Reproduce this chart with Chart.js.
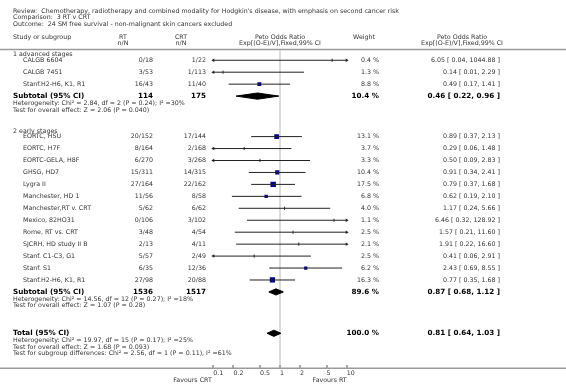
<!DOCTYPE html>
<html>
<head>
<meta charset="utf-8">
<title>24 SM free survival - RT v CRT</title>
<script src="https://cdn.jsdelivr.net/npm/chart.js@4.4.0/dist/chart.umd.min.js"></script>
<style>
  html, body { margin: 0; padding: 0; background: #fff; }
  canvas { display: block; }
</style>
</head>
<body>
<canvas id="myChart" width="566" height="392"></canvas>
<script>
// ---- data ----
const titleLines = [
  'Review:  Chemotherapy, radiotherapy and combined modality for Hodgkin\'s disease, with emphasis on second cancer risk',
  'Comparison:  3 RT v CRT',
  'Outcome:  24 SM free survival - non-malignant skin cancers excluded'
];
const groupNames = ['1 advanced stages', '2 early stages'];
const studyNames = [
  'CALGB 6604', 'CALGB 7451', 'Stanf.H2-H6, K1, R1',
  'EORTC, HSU', 'EORTC, H7F', 'EORTC-GELA, H8F', 'GHSG, HD7', 'Lygra II',
  'Manchester, HD 1', 'Manchester,RT v. CRT', 'Mexico, 82HO31', 'Rome, RT vs. CRT',
  'SJCRH, HD study II B', 'Stanf. C1-C3, G1', 'Stanf. S1', 'Stanf.H2-H6, K1, R1'
];
const studyGroup = [0, 0, 0, 1, 1, 1, 1, 1, 1, 1, 1, 1, 1, 1, 1, 1];
const rtEvents  = [0, 3, 16, 20, 8, 6, 15, 27, 11, 5, 0, 3, 2, 5, 6, 27];
const rtTotal   = [18, 53, 43, 152, 164, 270, 311, 164, 56, 62, 106, 48, 13, 57, 35, 98];
const crtEvents = [1, 1, 11, 17, 2, 3, 14, 22, 8, 6, 3, 4, 4, 2, 12, 20];
const crtTotal  = [22, 113, 40, 144, 168, 268, 315, 162, 58, 62, 102, 54, 11, 49, 36, 88];
const oddsRatio = [6.05, 0.14, 0.49, 0.89, 0.29, 0.50, 0.91, 0.79, 0.62, 1.17, 6.46, 1.57, 1.91, 0.41, 2.43, 0.77];
const ciLow     = [0.04, 0.01, 0.17, 0.37, 0.06, 0.09, 0.34, 0.37, 0.19, 0.24, 0.32, 0.21, 0.22, 0.06, 0.69, 0.35];
const ciHigh    = [1044.88, 2.29, 1.41, 2.13, 1.48, 2.83, 2.41, 1.68, 2.10, 5.66, 128.92, 11.60, 16.60, 2.91, 8.55, 1.68];
const weights   = [0.4, 1.3, 8.8, 13.1, 3.7, 3.3, 10.4, 17.5, 6.8, 4.0, 1.1, 2.5, 2.1, 2.5, 6.2, 16.3];

const subtotalRt     = [114, 1536];
const subtotalCrt    = [175, 1517];
const subtotalOr     = [0.46, 0.87];
const subtotalLow    = [0.22, 0.68];
const subtotalHigh   = [0.96, 1.12];
const subtotalWeight = [10.4, 89.6];
const subtotalNotes = [
  ['Heterogeneity: Chi\u00b2 = 2.84, df = 2 (P = 0.24); I\u00b2 =30%', 'Test for overall effect: Z = 2.06 (P = 0.040)'],
  ['Heterogeneity: Chi\u00b2 = 14.56, df = 12 (P = 0.27); I\u00b2 =18%', 'Test for overall effect: Z = 1.07 (P = 0.28)']
];
const totalOr = 0.81;
const totalLow = 0.64;
const totalHigh = 1.03;
const totalWeight = 100.0;
const totalNotes = [
  'Heterogeneity: Chi\u00b2 = 19.97, df = 15 (P = 0.17); I\u00b2 =25%',
  'Test for overall effect: Z = 1.68 (P = 0.093)',
  'Test for subgroup differences: Chi\u00b2 = 2.56, df = 1 (P = 0.11), I\u00b2 =61%'
];
const axisTicks = [0.1, 0.2, 0.5, 1, 2, 5, 10];
const favourLabels = ['Favours CRT', 'Favours RT'];

// ---- layout (row units on the y scale) ----
const FONT = 'DejaVu Sans';
const AXIS_MIN = axisTicks[0];
const AXIS_MAX = axisTicks[axisTicks.length - 1];
const studyY = [], headingY = [], subtotalY = [], notesY = [];
let cursor = 0.42;
groupNames.forEach((g, gi) => {
  headingY[gi] = cursor;
  cursor += 0.48;
  studyNames.forEach((s, i) => {
    if (studyGroup[i] === gi) { studyY[i] = cursor; cursor += 1; }
  });
  subtotalY[gi] = cursor;
  notesY[gi] = subtotalNotes[gi].map((n, k) => cursor + 0.6 + k * 0.56);
  cursor += 0.6 + 0.56 + 1.75;
});
const totalY = subtotalY[subtotalY.length - 1] + 0.6 + 0.56 + 2.3;
const totalNotesY = totalNotes.map((n, k) => totalY + 0.6 + k * 0.56);

const fmt = v => v.toFixed(2);
const ciText = (o, l, h) => fmt(o) + ' [ ' + fmt(l) + ', ' + fmt(h) + ' ]';
const squareSide = w => 1.3 * Math.sqrt(w);

// ---- datasets ----
const datasets = [];

// confidence interval lines
studyNames.forEach((s, i) => {
  datasets.push({
    type: 'line',
    data: [{ x: Math.max(ciLow[i], AXIS_MIN), y: studyY[i] }, { x: Math.min(ciHigh[i], AXIS_MAX), y: studyY[i] }],
    borderColor: '#222',
    borderWidth: 1,
    pointRadius: 0,
    fill: false
  });
});

// arrows where the interval runs off the axis
const arrowPts = [], arrowRot = [];
studyNames.forEach((s, i) => {
  if (ciLow[i] < AXIS_MIN) { arrowPts.push({ x: AXIS_MIN, y: studyY[i] }); arrowRot.push(270); }
  if (ciHigh[i] > AXIS_MAX) { arrowPts.push({ x: AXIS_MAX, y: studyY[i] }); arrowRot.push(90); }
});
datasets.push({
  data: arrowPts,
  pointStyle: 'triangle',
  pointRotation: arrowRot,
  pointRadius: 2,
  backgroundColor: '#222',
  borderColor: '#222',
  borderWidth: 0,
  clip: false
});

// weighted squares
const sqPts = [], sqRad = [], tickPts = [];
studyNames.forEach((s, i) => {
  const side = squareSide(weights[i]);
  if (side >= 3) { sqPts.push({ x: oddsRatio[i], y: studyY[i] }); sqRad.push(side / Math.SQRT2); }
  else tickPts.push({ x: oddsRatio[i], y: studyY[i] });
});
datasets.push({
  data: sqPts,
  pointStyle: 'rect',
  pointRadius: sqRad,
  backgroundColor: '#00008b',
  borderWidth: 0
});
datasets.push({
  data: tickPts,
  pointStyle: 'line',
  pointRotation: 90,
  pointRadius: 1.6,
  borderColor: '#333',
  borderWidth: 1
});

// diamonds
const DIAMOND_H = 0.26;
function diamond(o, l, h, y) {
  return {
    type: 'line',
    data: [{ x: l, y: y }, { x: o, y: y - DIAMOND_H }, { x: h, y: y }, { x: o, y: y + DIAMOND_H }, { x: l, y: y }],
    borderColor: '#000',
    backgroundColor: '#000',
    borderWidth: 1,
    pointRadius: 0,
    tension: 0,
    fill: 'shape'
  };
}
groupNames.forEach((g, gi) => datasets.push(diamond(subtotalOr[gi], subtotalLow[gi], subtotalHigh[gi], subtotalY[gi])));
datasets.push(diamond(totalOr, totalLow, totalHigh, totalY));

// ---- text and rules ----
const forestText = {
  id: 'forestText',
  afterDraw(chart) {
    const ctx = chart.ctx;
    const ys = chart.scales.y, xs = chart.scales.x;
    const py = v => ys.getPixelForValue(v);
    const area = chart.chartArea;

    function txt(s, x, y, align, bold) {
      ctx.font = (bold ? 'bold 7.2px ' : '6.3px ') + FONT;
      ctx.fillStyle = bold ? '#000' : '#333';
      ctx.textAlign = align;
      ctx.textBaseline = 'middle';
      ctx.fillText(s, x, y);
    }

    ctx.save();
    // horizontal rules
    ctx.strokeStyle = '#9a9a9a';
    ctx.lineWidth = 1.5;
    ctx.beginPath();
    ctx.moveTo(0, area.top); ctx.lineTo(chart.width, area.top);
    ctx.moveTo(0, area.bottom + 3); ctx.lineTo(chart.width, area.bottom + 3);
    ctx.stroke();

    titleLines.forEach((t, k) => txt(t, 13, 11 + k * 6.5, 'left'));

    const xMid = xs.getPixelForValue(1);
    txt('Study or subgroup', 13, 37.7, 'left');
    txt('RT', 123, 37.7, 'center');   txt('n/N', 123, 43.3, 'center');
    txt('CRT', 181, 37.7, 'center');  txt('n/N', 181, 43.3, 'center');
    txt('Peto Odds Ratio', xMid, 37.7, 'center');
    txt('Exp[(O-E)/V],Fixed,99% CI', xMid, 43.3, 'center');
    txt('Weight', 364, 37.7, 'center');
    txt('Peto Odds Ratio', 462, 37.7, 'center');
    txt('Exp[(O-E)/V],Fixed,99% CI', 462, 43.3, 'center');

    groupNames.forEach((g, gi) => {
      txt(g, 13, py(headingY[gi]), 'left');
      const ys0 = py(subtotalY[gi]);
      txt('Subtotal (95% CI)', 13, ys0, 'left', true);
      txt(String(subtotalRt[gi]), 153, ys0, 'right', true);
      txt(String(subtotalCrt[gi]), 206, ys0, 'right', true);
      txt(subtotalWeight[gi].toFixed(1) + ' %', 379, ys0, 'right', true);
      txt(ciText(subtotalOr[gi], subtotalLow[gi], subtotalHigh[gi]), 500, ys0, 'right', true);
      subtotalNotes[gi].forEach((n, k) => txt(n, 13, py(notesY[gi][k]), 'left'));
    });

    studyNames.forEach((s, i) => {
      const y = py(studyY[i]);
      txt(s, 23, y, 'left');
      txt(rtEvents[i] + '/' + rtTotal[i], 153, y, 'right');
      txt(crtEvents[i] + '/' + crtTotal[i], 206, y, 'right');
      txt(weights[i].toFixed(1) + ' %', 379, y, 'right');
      txt(ciText(oddsRatio[i], ciLow[i], ciHigh[i]), 500, y, 'right');
    });

    const yt = py(totalY);
    txt('Total (95% CI)', 13, yt, 'left', true);
    txt(totalWeight.toFixed(1) + ' %', 379, yt, 'right', true);
    txt(ciText(totalOr, totalLow, totalHigh), 500, yt, 'right', true);
    totalNotes.forEach((n, k) => txt(n, 13, py(totalNotesY[k]), 'left'));

    txt(favourLabels[0], xs.getPixelForValue(AXIS_MIN) - 1.5, area.bottom + 15.5, 'right');
    txt(favourLabels[1], xs.getPixelForValue(AXIS_MAX), area.bottom + 15.5, 'right');
    ctx.restore();
  }
};

Chart.defaults.font.family = FONT;

const myChart = new Chart(document.getElementById('myChart').getContext('2d'), {
  type: 'scatter',
  data: { datasets: datasets },
  options: {
    responsive: false,
    animation: false,
    events: [],
    layout: { padding: { left: 213.3, right: 219.3, top: 49.5, bottom: 0 } },
    plugins: { legend: { display: false }, tooltip: { enabled: false } },
    scales: {
      x: {
        type: 'logarithmic',
        min: AXIS_MIN,
        max: AXIS_MAX,
        afterBuildTicks: s => { s.ticks = axisTicks.map(v => ({ value: v })); },
        afterFit: s => { s.height = 26.7; },
        border: { display: false },
        grid: {
          color: c => (c.tick && c.tick.value === 1) ? '#dcdcdc' : 'rgba(0,0,0,0)',
          lineWidth: c => (c.tick && c.tick.value === 1) ? 2 : 0,
          tickColor: '#555',
          tickWidth: 1,
          tickLength: 3
        },
        ticks: {
          align: 'start',
          padding: 1,
          color: '#333',
          autoSkip: false,
          maxRotation: 0,
          font: { family: FONT, size: 6.3 },
          callback: v => String(v)
        }
      },
      y: {
        type: 'linear',
        display: false,
        reverse: true,
        min: 0,
        max: 26.43
      }
    }
  },
  plugins: [forestText]
});
</script>
</body>
</html>
